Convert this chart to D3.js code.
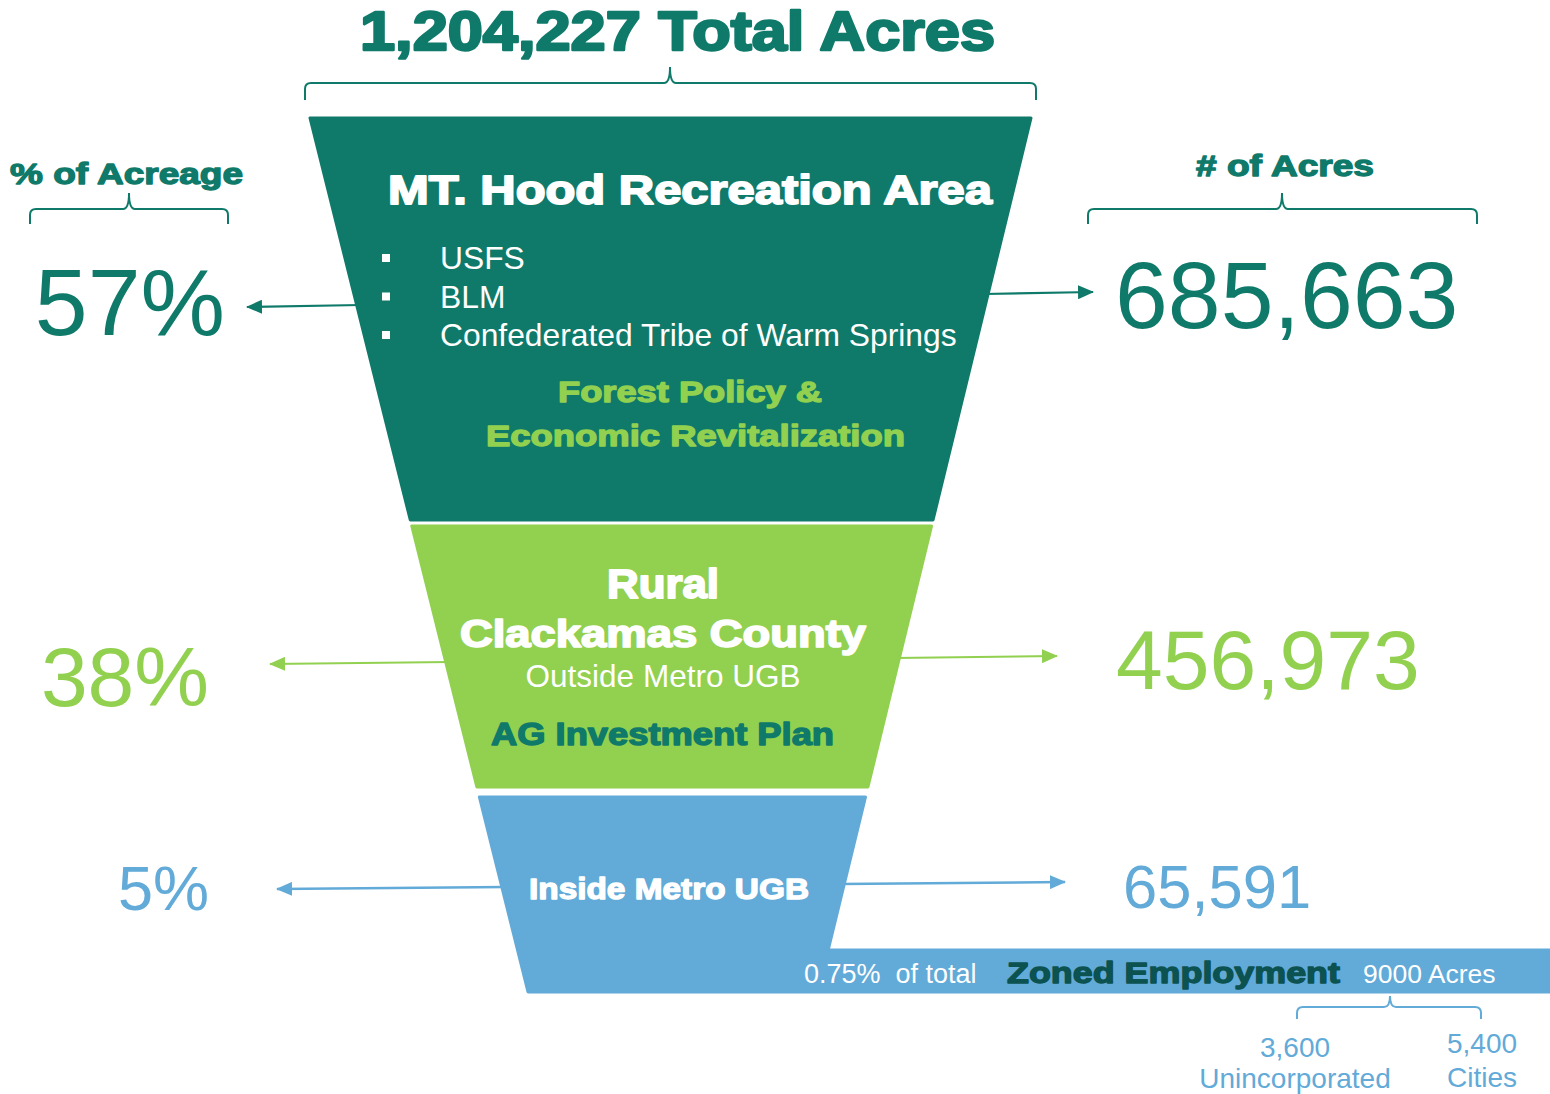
<!DOCTYPE html>
<html>
<head>
<meta charset="utf-8">
<script src="https://cdn.jsdelivr.net/npm/d3@7"></script>
<style>
  html, body { margin: 0; padding: 0; background: #fff; }
  svg { display: block; }
</style>
</head>
<body>
<div id="chart"></div>
<script>
// --- data ---
const totalAcres = 1204227;
const segmentNames = ["MT. Hood Recreation Area", "Rural Clackamas County", "Inside Metro UGB"];
const segmentAcres = [685663, 456973, 65591];
const segmentShares = [57, 38, 5];
const hoodOwners = ["USFS", "BLM", "Confederated Tribe of Warm Springs"];
const segmentPlans = [["Forest Policy &", "Economic Revitalization"], ["AG Investment Plan"], []];
const zonedShare = 0.75;
const zonedAcres = 9000;
const zonedSplitLabels = ["Unincorporated", "Cities"];
const zonedSplitAcres = [3600, 5400];

// --- palette ---
const ink = "#0F7A6A", lime = "#92D050", sky = "#62AAD8", deep = "#0B5250";
const segColors = [ink, lime, sky];

const W = 1550, H = 1094;
const fmt = d3.format(",");
const sans = "'Liberation Sans', Arial, sans-serif";

const svg = d3.select("#chart").append("svg")
    .attr("width", W).attr("height", H);

// funnel: straight sides, cut into three bands
const midX = d3.scaleLinear().domain([118, 992]).range([670.5, 673]);
const halfW = d3.scaleLinear().domain([118, 992]).range([360.5, 145]);
const bandTop = [118, 526, 797];
const bandBottom = [520, 787, 992];
const bandY = 950; // zoned employment strip
const leftEdge = y => midX(y) - halfW(y);
const rightEdge = y => midX(y) + halfW(y);

// arrowheads
const defs = svg.append("defs");
segColors.forEach((c, i) => {
    defs.append("marker")
        .attr("id", "head" + i)
        .attr("viewBox", "0 0 16 14")
        .attr("refX", 15).attr("refY", 7)
        .attr("markerWidth", 16).attr("markerHeight", 14)
        .attr("markerUnits", "userSpaceOnUse")
        .attr("orient", "auto")
        .append("path").attr("d", "M0,0 L16,7 L0,14 Z").attr("fill", c);
});

// heavy label helper (Arial Black look)
function heavy(g, x, y, text, size, color, len, anchor) {
    const t = g.append("text")
        .attr("x", x).attr("y", y)
        .attr("font-family", sans)
        .attr("font-weight", 700)
        .attr("font-size", size)
        .attr("fill", color)
        .attr("stroke", color)
        .attr("stroke-width", size * 0.045)
        .attr("stroke-linejoin", "round")
        .attr("text-anchor", anchor || "start")
        .text(text);
    if (len) t.attr("textLength", len).attr("lengthAdjust", "spacingAndGlyphs");
    return t;
}
function plain(g, x, y, text, size, color, anchor) {
    return g.append("text")
        .attr("x", x).attr("y", y)
        .attr("font-family", sans)
        .attr("font-size", size)
        .attr("fill", color)
        .attr("text-anchor", anchor || "start")
        .text(text);
}
// curly bracket, tip pointing up
function brace(x0, x1, yH, yEnd, tipY, color, xm) {
    xm = xm == null ? (x0 + x1) / 2 : xm;
    const r = 6;
    const p = `M${x0},${yEnd} V${yH + r} Q${x0},${yH} ${x0 + r},${yH} H${xm - r} Q${xm},${yH} ${xm},${tipY}`
        + ` Q${xm},${yH} ${xm + r},${yH} H${x1 - r} Q${x1},${yH} ${x1},${yH + r} V${yEnd}`;
    svg.append("path").attr("d", p).attr("fill", "none")
        .attr("stroke", color).attr("stroke-width", 2);
}

// --- arrows (under the funnel) ---
const leftArrowY = [[305, 307], [662, 664], [887, 889]];
const leftTipX = [247, 270, 277];
const rightArrowY = [[294, 292], [658, 656], [884, 882]];
const rightTipX = [1093, 1057, 1065];
const lineW = [2.2, 2.2, 2.5];

segColors.forEach((c, i) => {
    const yl = leftArrowY[i], yr = rightArrowY[i];
    svg.append("line")
        .attr("x1", leftEdge(yl[0]) + 4).attr("y1", yl[0])
        .attr("x2", leftTipX[i]).attr("y2", yl[1])
        .attr("stroke", c).attr("stroke-width", lineW[i])
        .attr("marker-end", `url(#head${i})`);
    svg.append("line")
        .attr("x1", rightEdge(yr[0]) - 4).attr("y1", yr[0])
        .attr("x2", rightTipX[i]).attr("y2", yr[1])
        .attr("stroke", c).attr("stroke-width", lineW[i])
        .attr("marker-end", `url(#head${i})`);
});

// --- funnel bands ---
segColors.forEach((c, i) => {
    const t = bandTop[i], b = bandBottom[i];
    let pts;
    if (i < 2) {
        pts = [[leftEdge(t), t], [rightEdge(t), t], [rightEdge(b), b], [leftEdge(b), b]];
    } else {
        pts = [[leftEdge(t), t], [rightEdge(t), t], [rightEdge(bandY), bandY],
               [W, bandY], [W, b], [leftEdge(b), b]];
    }
    svg.append("path")
        .attr("d", d3.line()(pts) + "Z")
        .attr("fill", c).attr("stroke", c)
        .attr("stroke-width", 3).attr("stroke-linejoin", "round");
});

// --- headline + bracket ---
heavy(svg, 360, 50, `${fmt(totalAcres)} Total Acres`, 56, ink, 635);
brace(305, 1036, 83, 100, 67, ink, 670);

heavy(svg, 10, 184, "% of Acreage", 29, ink, 233);
brace(30, 228, 209, 224, 193, ink, 129);
heavy(svg, 1196, 176, "# of Acres", 29, ink, 178);
brace(1088, 1477, 209, 224, 193, ink, 1282);

// --- share / acre labels ---
const leftLabelX = [225, 209, 209];
const leftLabelY = [335, 706, 910];
const leftLabelSize = [95, 84, 63];
const rightLabelX = [1115, 1116, 1123];
const rightLabelY = [328, 689, 908];
const rightLabelSize = [95, 84, 61.5];
segColors.forEach((c, i) => {
    plain(svg, leftLabelX[i], leftLabelY[i], segmentShares[i] + "%", leftLabelSize[i], c, "end");
    plain(svg, rightLabelX[i], rightLabelY[i], fmt(segmentAcres[i]), rightLabelSize[i], c);
});

// --- band 1 text ---
heavy(svg, 388, 204, segmentNames[0], 40, "#fff", 604);
hoodOwners.forEach((o, i) => {
    const y = 269 + i * 38.5;
    svg.append("rect").attr("x", 382).attr("y", y - 15).attr("width", 8).attr("height", 8).attr("fill", "#fff");
    plain(svg, 440, y, o, 31.8, "#fff");
});
heavy(svg, 558, 402, segmentPlans[0][0], 30, lime, 264);
heavy(svg, 486, 446, segmentPlans[0][1], 30, lime, 419);

// --- band 2 text ---
const ruralWords = segmentNames[1].split(" ");
heavy(svg, 607, 598, ruralWords[0], 40, "#fff", 112);
heavy(svg, 460, 647, ruralWords.slice(1).join(" "), 38, "#fff", 406);
plain(svg, 663, 687, "Outside Metro UGB", 31.5, "#fff", "middle");
heavy(svg, 491, 745, segmentPlans[1][0], 32, ink, 343);

// --- band 3 text ---
heavy(svg, 529, 899, segmentNames[2], 30, "#fff", 280);

// zoned employment strip
plain(svg, 804, 983, `${zonedShare}%  of total`, 27, "#fff").attr("xml:space", "preserve");
heavy(svg, 1007, 983, "Zoned Employment", 29, deep, 333);
plain(svg, 1363, 983, `${zonedAcres} Acres`, 26.5, "#fff");

brace(1297, 1481, 1007, 1019, 996, sky, 1390);
const splitX = [1295, 1482];
const splitNumY = [1057, 1053];
const splitLblY = [1088, 1087];
zonedSplitAcres.forEach((v, i) => {
    plain(svg, splitX[i], splitNumY[i], fmt(v), 28, sky, "middle");
    plain(svg, splitX[i], splitLblY[i], zonedSplitLabels[i], 28, sky, "middle");
});
</script>
</body>
</html>
